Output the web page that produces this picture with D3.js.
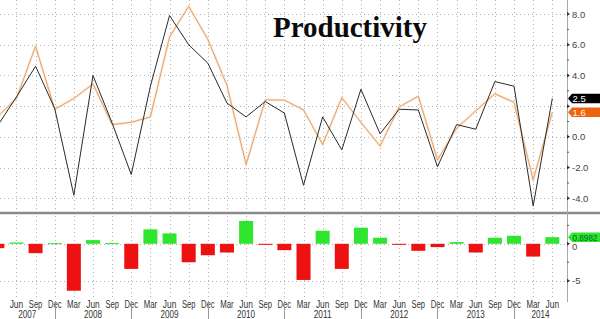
<!DOCTYPE html>
<html><head><meta charset="utf-8">
<script src="https://cdn.jsdelivr.net/npm/d3@7"></script>
<style>
html,body{margin:0;padding:0;background:#fff;}
svg{display:block;}
</style></head>
<body>
<svg id="c" width="600" height="319"></svg>
<script>
// ---- data ----
const quarters = ["Mar","Jun","Sep","Dec","Mar","Jun","Sep","Dec","Mar","Jun","Sep","Dec","Mar","Jun","Sep","Dec",
  "Mar","Jun","Sep","Dec","Mar","Jun","Sep","Dec","Mar","Jun","Sep","Dec","Mar","Jun"];
const years = ["2007","2008","2009","2010","2011","2012","2013","2014"];
const actual = [0.7,2.6,4.6,1.85,-3.8,4.0,0.9,-2.45,3.3,7.9,6.0,4.8,2.2,1.3,2.3,1.55,
  -3.15,1.3,-0.85,3.1,0.2,1.8,1.75,-1.95,0.8,0.5,3.6,3.3,-4.5,2.5];
const estimate = [1.3,2.5,5.9,1.8,2.5,3.45,0.8,0.95,1.3,6.5,8.5,6.35,3.35,-1.8,2.4,2.4,
  1.75,-0.5,2.55,0.95,-0.6,1.95,2.65,-1.5,0.55,1.7,2.8,2.25,-2.8,1.6];
const surprise = [-0.59,0.18,-1.27,0.09,-6.36,0.5,0.1,-3.4,1.96,1.41,-2.5,-1.55,-1.18,3.09,-0.14,-0.86,
  -4.9,1.77,-3.4,2.18,0.82,-0.14,-0.95,-0.45,0.23,-1.18,0.82,1.09,-1.73,0.8982];
const topTicks = [8,6,4,2,0,-2,-4];
const topTickLabels = ["8.0","6.0","4.0","","0.0","-2.0","-4.0"];
const botTicks = [0,-5];
const botTickLabels = ["0","-5"];
const lastLabels = ["2.5","1.6","0.8982"];

// ---- layout ----
const svg = d3.select("#c");
const plotR = 567;
const x = d3.scaleLinear().domain([0, 29]).range([-2.7, 552.3]);
const yT = d3.scaleLinear().domain([-4, 8]).range([198.3, 14]);
const yB = d3.scaleLinear().domain([-5, 0]).range([280.7, 243.8]);
const idx = d3.range(quarters.length);
const font = "'Liberation Sans','DejaVu Sans',sans-serif";

svg.append("defs").append("clipPath").attr("id","clipT")
  .append("rect").attr("x",0).attr("y",0).attr("width",plotR).attr("height",212);
svg.select("defs").append("clipPath").attr("id","clipB")
  .append("rect").attr("x",0).attr("y",214).attr("width",plotR).attr("height",84);

const grid = svg.append("g").attr("stroke","#b0b0b0").attr("stroke-dasharray","1,3").attr("stroke-width",1);
grid.selectAll("line.v").data(idx.filter(i => x(i) > 0)).join("line").attr("class","v")
  .attr("x1", i => Math.round(x(i))+0.5).attr("x2", i => Math.round(x(i))+0.5)
  .attr("y1", 0).attr("y2", 297);
grid.selectAll("line.ht").data(topTicks).join("line").attr("class","ht")
  .attr("x1",0).attr("x2",plotR).attr("y1",d=>Math.round(yT(d))+0.5).attr("y2",d=>Math.round(yT(d))+0.5);
grid.selectAll("line.hb").data(botTicks).join("line").attr("class","hb")
  .attr("x1",0).attr("x2",plotR).attr("y1",d=>Math.round(yB(d))+0.5).attr("y2",d=>Math.round(yB(d))+0.5);

// title
svg.append("text").attr("x",273).attr("y",37)
  .attr("font-family","'Liberation Serif','DejaVu Serif',serif").attr("font-weight","bold")
  .attr("font-size",29).attr("textLength",154).attr("lengthAdjust","spacingAndGlyphs")
  .attr("fill","#0a0a0a").text("Productivity");

// lines
const line = d3.line().x(i => x(i));
const gT = svg.append("g").attr("clip-path","url(#clipT)");
gT.append("path").datum(idx).attr("fill","none").attr("stroke","#f6dcc2").attr("stroke-width",2.6).attr("opacity",0.6)
  .attr("d", line.y(i => yT(estimate[i])));
gT.append("path").datum(idx).attr("fill","none").attr("stroke","#e9a060").attr("stroke-width",1)
  .attr("d", line.y(i => yT(estimate[i])));
gT.append("path").datum(idx).attr("fill","none").attr("stroke","#2a2a2a").attr("stroke-width",1)
  .attr("d", line.y(i => yT(actual[i])));

// bars
const bw = 14;
const gB = svg.append("g").attr("clip-path","url(#clipB)");
gB.selectAll("rect").data(idx).join("rect")
  .attr("x", i => x(i) - bw/2).attr("width", bw)
  .attr("y", i => surprise[i] >= 0 ? yB(surprise[i]) : yB(0))
  .attr("height", i => Math.max(1, Math.abs(yB(surprise[i]) - yB(0))))
  .attr("fill", i => surprise[i] >= 0 ? "#2ee62e" : "#ee1111");

// divider & axis lines
svg.append("line").attr("x1",0).attr("x2",600).attr("y1",213).attr("y2",213)
  .attr("stroke","#8a8a8a").attr("stroke-width",2.5);
svg.append("line").attr("x1",plotR+0.5).attr("x2",plotR+0.5).attr("y1",0).attr("y2",302)
  .attr("stroke","#a8a8a8").attr("stroke-width",1);

// right axis top
const axT = svg.append("g");
axT.selectAll("path").data(topTicks).join("path")
  .attr("d", d => `M${plotR},${yT(d)-2}L${plotR+3},${yT(d)}L${plotR},${yT(d)+2}Z`).attr("fill","#333");
axT.selectAll("line").data([7,5,3,1,-1,-3]).join("line")
  .attr("x1",plotR).attr("x2",plotR+2).attr("y1",d=>yT(d)).attr("y2",d=>yT(d)).attr("stroke","#555");
axT.selectAll("text").data(topTicks.filter((d,i)=>topTickLabels[i])).join("text")
  .attr("x",plotR+5).attr("y",d=>yT(d)+3.5).attr("font-family",font).attr("font-size",9.5)
  .attr("fill","#444").text(d=>topTickLabels[topTicks.indexOf(d)]);
// right axis bottom
const axB = svg.append("g");
axB.selectAll("path").data(botTicks).join("path")
  .attr("d", d => `M${plotR},${yB(d)-2}L${plotR+3},${yB(d)}L${plotR},${yB(d)+2}Z`).attr("fill","#333");
axB.selectAll("line").data([2.5,-2.5]).join("line")
  .attr("x1",plotR).attr("x2",plotR+2).attr("y1",d=>yB(d)).attr("y2",d=>yB(d)).attr("stroke","#555");
axB.selectAll("text").data(botTicks).join("text")
  .attr("x",plotR+5).attr("y",(d,i)=>yB(d)+(i===0?6.5:3.5)).attr("font-family",font).attr("font-size",9.5)
  .attr("fill","#444").text((d,i)=>botTickLabels[i]);

// last value labels
function tag(yc, fill, tcol, txt, tl){
  const h = 9.5, x0 = plotR + 1;
  svg.append("path").attr("d",`M${x0},${yc}L${x0+4},${yc-h/2}L600,${yc-h/2}L600,${yc+h/2}L${x0+4},${yc+h/2}Z`).attr("fill",fill);
  const t = svg.append("text").attr("x",x0+4.5).attr("y",yc+3.4).attr("font-family",font)
    .attr("font-size",tl ? 8.5 : 9.5).attr("fill",tcol).text(txt);
  if (tl) t.attr("textLength",tl).attr("lengthAdjust","spacingAndGlyphs");
}
const n = quarters.length - 1;
tag(yT(actual[n]), "#000", "#fff", lastLabels[0]);
tag(yT(estimate[n]), "#ec6410", "#fff3e6", lastLabels[1]);
tag(yB(surprise[n]), "#2ee62e", "#063", lastLabels[2], 25);

// x labels
svg.append("g").selectAll("text").data(idx.filter(i => x(i) > 5)).join("text")
  .attr("x", i => x(i)).attr("y", 308).attr("text-anchor","middle")
  .attr("font-family",font).attr("font-size",10).attr("textLength",13.5).attr("lengthAdjust","spacingAndGlyphs")
  .attr("fill","#333").text(i => quarters[i]);
const decs = idx.filter(i => quarters[i] === "Dec");
svg.append("g").selectAll("line").data(decs).join("line")
  .attr("x1", i => Math.round(x(i))+0.5).attr("x2", i => Math.round(x(i))+0.5)
  .attr("y1", 301).attr("y2", 319).attr("stroke","#999");
const bounds = [0, ...decs.map(i => x(i)), plotR];
svg.append("g").selectAll("text").data(years).join("text")
  .attr("x", (d,k) => (bounds[k] + bounds[k+1]) / 2).attr("y", 317.5).attr("text-anchor","middle")
  .attr("font-family",font).attr("font-size",10).attr("textLength",18).attr("lengthAdjust","spacingAndGlyphs")
  .attr("fill","#333").text(d => d);
</script>
</body></html>
